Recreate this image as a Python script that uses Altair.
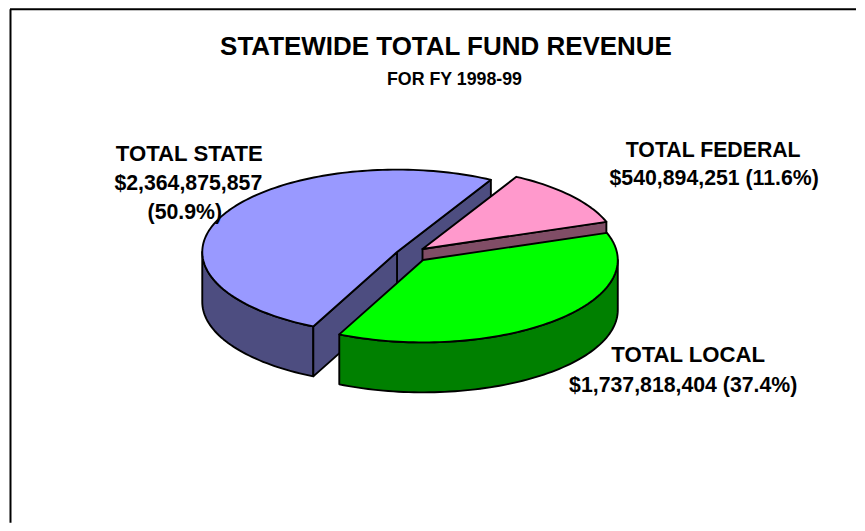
import math
import altair as alt
import pandas as pd

# ---- chart values ----
names = ["TOTAL STATE", "TOTAL FEDERAL", "TOTAL LOCAL"]
values = [2364875857, 540894251, 1737818404]
shares = ["50.9%", "11.6%", "37.4%"]
title_text = "STATEWIDE TOTAL FUND REVENUE"
subtitle_text = "FOR FY 1998-99"

# ---- styling / layout ----
W, H = 849, 515
OX, OY = 8, 8
top_colors = ["#9999FF", "#FF99CC", "#00FF00"]
wall_colors = ["#4D4D80", "#804D66", "#008000"]
apex = [(397.5, 252), (423, 249), (423.5, 260)]   # exploded slice centres (page px)
RX, RY, DEPTH = 195, 82.5, 50
START = 28.8  # clockwise from north, degrees: first slice after the state slice ends
FONT = "Liberation Sans"

total = sum(values)
spans = [v / total * 360 for v in values]
ranges = [
    (START - spans[0], START),
    (START, START + spans[1]),
    (START + spans[1], START + spans[1] + spans[2]),
]


def pt(c, deg, drop=0):
    a = math.radians(deg)
    return (c[0] + RX * math.sin(a), c[1] - RY * math.cos(a) + drop)


def arc(c, a0, a1, drop=0):
    n = max(2, int(abs(a1 - a0) / 1.5) + 1)
    return [pt(c, a0 + (a1 - a0) * i / (n - 1), drop) for i in range(n)]


def poly(points, fill):
    df = pd.DataFrame(
        {
            "x": [p[0] - OX for p in points],
            "y": [p[1] - OY for p in points],
            "i": list(range(len(points))),
        }
    )
    return (
        alt.Chart(df)
        .mark_line(
            interpolate="linear-closed",
            fill=fill,
            stroke="black",
            strokeWidth=1.9,
            strokeJoin="round",
        )
        .encode(
            x=alt.X("x:Q", scale=alt.Scale(domain=[0, W]), axis=None),
            y=alt.Y("y:Q", scale=alt.Scale(domain=[H, 0]), axis=None),
            order=alt.Order("i:Q"),
        )
    )


def down(p, d=DEPTH):
    return (p[0], p[1] + d)


layers = []
for k, (a0, a1) in enumerate(ranges):
    c = apex[k]
    lo, hi = a0 % 360, (a0 % 360) + (a1 - a0)
    walls = []
    for base in (90, 90 + 360, 90 - 360):
        s, e = max(lo, base), min(hi, base + 180)
        if e > s:
            top = arc(c, s, e)
            walls.append(top + [down(p) for p in reversed(top)])
    if k == 0:
        for ang in (a1, a0):
            p = pt(c, ang)
            walls.append([c, p, down(p), down(c)])
    if k == 1:
        p = pt(c, a1)
        walls.append([c, p, down(p), down(c)])
    for w in walls:
        layers.append(poly(w, wall_colors[k]))
    layers.append(poly([c] + arc(c, a0, a1), top_colors[k]))

# ---- frame ----
frame_left = alt.Chart(pd.DataFrame({"a": [0]})).mark_rule(color="black", strokeWidth=2).encode(
    x=alt.value(2.5), y=alt.value(1), y2=alt.value(H)
)
frame_top = alt.Chart(pd.DataFrame({"a": [0]})).mark_rule(color="black", strokeWidth=2).encode(
    x=alt.value(2), x2=alt.value(W), y=alt.value(1)
)


def text(lines, size):
    df = pd.DataFrame(
        {
            "t": [l[0] for l in lines],
            "x": [l[1] - OX for l in lines],
            "y": [l[2] - OY for l in lines],
        }
    )
    return (
        alt.Chart(df)
        .mark_text(font=FONT, fontWeight="bold", fontSize=size, color="black", align="center", baseline="alphabetic")
        .encode(
            x=alt.X("x:Q", scale=alt.Scale(domain=[0, W]), axis=None),
            y=alt.Y("y:Q", scale=alt.Scale(domain=[H, 0]), axis=None),
            text="t:N",
        )
    )


def money(v):
    return "${:,}".format(v)


title_layer = text([(title_text, 446.5, 55)], 26)
sub_layer = text([(subtitle_text, 455, 85)], 17.8)
labels = text(
    [
        (money(values[0]), 188.5, 190),
        ("(" + shares[0] + ")", 185, 219),
        (names[1], 714, 157),
        (money(values[1]) + " (" + shares[1] + ")", 715, 185),
        (money(values[2]) + " (" + shares[2] + ")", 684, 392),
    ],
    21.3,
)
wide_labels = text(
    [
        (names[0], 189.5, 161),
        (names[2], 689, 362),
    ],
    22.2,
)

chart = (
    alt.layer(*layers, frame_left, frame_top, title_layer, sub_layer, labels, wide_labels)
    .properties(width=W, height=H, padding=0, background="white")
    .configure_view(stroke=None)
)

chart.save("out.html", embed_options={"renderer": "svg", "actions": False})
